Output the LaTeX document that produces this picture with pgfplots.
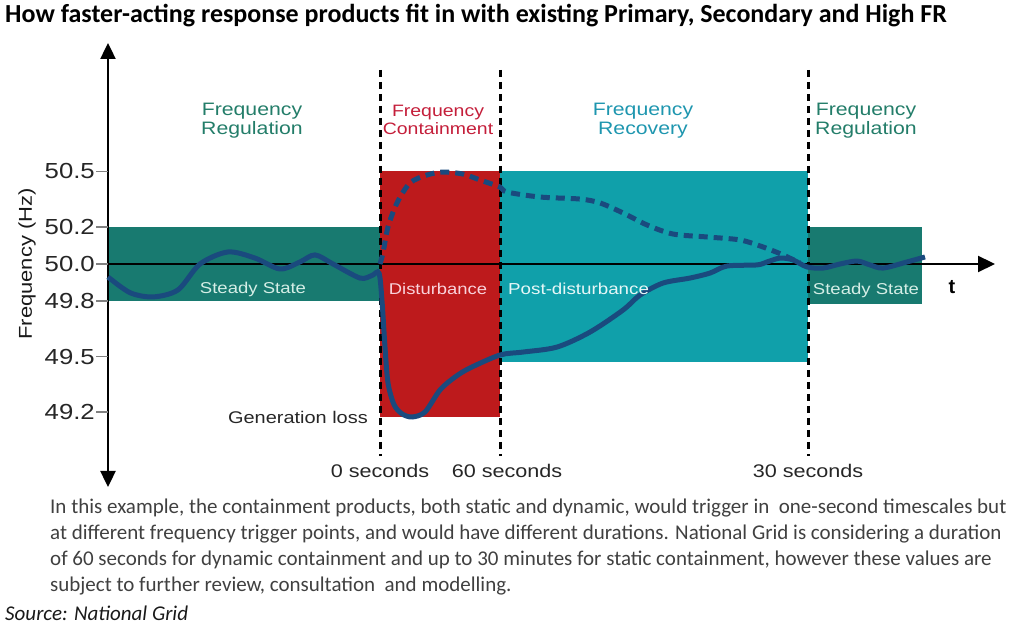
\documentclass[border=0pt]{standalone}
\usepackage{pgfplots}
\pgfplotsset{compat=1.18}
\usepackage{fontspec}
\setmainfont{Carlito}
\newfontfamily\hv{Liberation Sans}
\usetikzlibrary{arrows.meta}
\usepackage{graphicx}
\definecolor{bandteal}{HTML}{187A70}
\definecolor{contred}{HTML}{BD1A1C}
\definecolor{reccyan}{HTML}{10A0AA}
\definecolor{curve}{HTML}{1A4A7E}
\definecolor{headteal}{HTML}{237D69}
\definecolor{headred}{HTML}{C41E3A}
\definecolor{headrec}{HTML}{1E96AF}
\definecolor{lightmint}{HTML}{D5EEE6}
\definecolor{lightpink}{HTML}{F9D3DC}
\definecolor{lightcyan}{HTML}{E6F7F7}
\definecolor{paragray}{HTML}{404040}
\newcommand{\sx}[1]{\scalebox{1.18}[1]{#1}}
\newcommand{\fs}[1]{\fontsize{#1}{#1}\selectfont}
\newcommand{\Y}[1]{{50+(264-#1)/185}}
\begin{document}
\begin{tikzpicture}
\begin{axis}[
  width=1017pt, height=632pt, scale only axis,
  xmin=0, xmax=1017, ymin=48.010811, ymax=51.427027,
  axis lines=none, clip=false,
]
\coordinate (BL) at (axis cs:0,48.010811);
\coordinate (TR) at (axis cs:1017,51.427027);
% regions
\addplot[fill=bandteal, draw=none] coordinates {(108,49.8) (380,49.8) (380,50.2) (108,50.2)} -- cycle;
\addplot[fill=contred, draw=none] coordinates {(380,49.173) (500,49.173) (500,50.5) (380,50.5)} -- cycle;
\addplot[fill=reccyan, draw=none] coordinates {(500,49.47) (808,49.47) (808,50.5) (500,50.5)} -- cycle;
\addplot[fill=bandteal, draw=none] coordinates {(808,49.785) (922,49.785) (922,50.2) (808,50.2)} -- cycle;
% dashed vertical separators
\draw[black, line width=3pt, dash pattern=on 7pt off 5pt] (axis cs:380,\Y{70}) -- (axis cs:380,\Y{456});
\draw[black, line width=3pt, dash pattern=on 7pt off 5pt] (axis cs:500,\Y{70}) -- (axis cs:500,\Y{456});
\draw[black, line width=3pt, dash pattern=on 7pt off 5pt] (axis cs:808,\Y{70}) -- (axis cs:808,\Y{456});
% axes
\draw[line width=2.4pt, {Triangle[length=16pt,width=15pt]}-{Triangle[length=16pt,width=15pt]}] (axis cs:108,\Y{487}) -- (axis cs:108,\Y{43});
\draw[line width=2.2pt, -{Triangle[length=17pt,width=16pt]}] (axis cs:108,50) -- (axis cs:995,50);
% y ticks
\foreach \v in {50.5,50.2,50.0,49.8,49.5,49.2}{
  \edef\temp{\noexpand\draw[gray, line width=1.2pt] (axis cs:96,\v) -- (axis cs:108,\v);
  \noexpand\node[anchor=east, inner sep=0pt, font=\noexpand\hv\noexpand\fs{21.8}, text=black!85] at (axis cs:95,\v) {\noexpand\sx{\v}};}
  \temp
}
% curves
\addplot[curve, line width=5pt, smooth] coordinates {
(108,49.930) (130,49.845) (153,49.822) (178,49.860) (200,50.000) (228,50.065) (255,50.032)
(280,49.973) (300,50.011) (315,50.049) (333,50.000) (360,49.924) (372,49.938) (379,49.951)
(382,49.80) (385,49.55) (388,49.357) (394,49.24) (402,49.190) (412,49.173) (425,49.200)
(440,49.319) (455,49.389) (470,49.438) (500,49.508) (523,49.524) (557,49.551) (590,49.632)
(623,49.751) (640,49.832) (663,49.897) (690,49.924) (710,49.951) (727,49.989) (757,49.995)
(767,50.011) (780,50.032) (793,50.022) (807,49.984) (823,49.978) (840,50.000) (857,50.016)
(870,49.995) (883,49.978) (907,50.011) (925,50.038)
};
\addplot[curve, line width=5pt, smooth, dash pattern=on 9pt off 6pt] coordinates {
(380,50.000) (383,50.060) (388,50.200) (397,50.330) (410,50.438) (427,50.481) (443,50.497)
(463,50.486) (480,50.454) (500,50.416) (507,50.389) (540,50.362) (580,50.351) (600,50.330)
(623,50.276) (647,50.211) (673,50.162) (707,50.146) (740,50.130) (763,50.092) (783,50.049)
(800,50.005)
};
% region headings
\node[align=center, inner sep=0pt, text=headteal, font=\hv\fontsize{18}{19}\selectfont] at (axis cs:252,\Y{121}) {\sx{Frequency}\\\sx{Regulation}};
\node[align=center, inner sep=0pt, text=headred, font=\hv\fontsize{16.5}{18.5}\selectfont] at (axis cs:438,\Y{120}) {\sx{Frequency}\\\sx{Containment}};
\node[align=center, inner sep=0pt, text=headrec, font=\hv\fontsize{18}{19}\selectfont] at (axis cs:643,\Y{121}) {\sx{Frequency}\\\sx{Recovery}};
\node[align=center, inner sep=0pt, text=headteal, font=\hv\fontsize{18}{19}\selectfont] at (axis cs:866,\Y{121}) {\sx{Frequency}\\\sx{Regulation}};
% in-band labels
\node[inner sep=0pt, text=lightmint, font=\hv\fs{15.7}] at (axis cs:253,\Y{289}) {\sx{Steady State}};
\node[inner sep=0pt, text=lightpink, font=\hv\fs{15.6}] at (axis cs:438,\Y{289}) {\sx{Disturbance}};
\node[anchor=west, inner sep=0pt, text=lightcyan, font=\hv\fs{15.9}] at (axis cs:508,\Y{289}) {\sx{Post-disturbance}};
\node[inner sep=0pt, text=lightmint, font=\hv\fs{15.7}] at (axis cs:866,\Y{290}) {\sx{Steady State}};
\node[anchor=east, inner sep=0pt, text=black!85, font=\hv\fs{16.9}] at (axis cs:368,\Y{417}) {\sx{Generation loss}};
% time labels
\node[inner sep=0pt, text=black!85, font=\hv\fs{18.3}] at (axis cs:380,\Y{471}) {\sx{0 seconds}};
\node[inner sep=0pt, text=black!85, font=\hv\fs{18.3}] at (axis cs:507,\Y{471}) {\sx{60 seconds}};
\node[inner sep=0pt, text=black!85, font=\hv\fs{18.3}] at (axis cs:808,\Y{471}) {\sx{30 seconds}};
\node[inner sep=0pt, font=\hv\bfseries\fs{20}] at (axis cs:952,\Y{287}) {t};
\node[inner sep=0pt, rotate=90, text=black!90, font=\hv\fs{18.6}] at (axis cs:27,\Y{264}) {\sx{Frequency (Hz)}};
% title
\node[anchor=west, inner sep=0pt, font=\bfseries\fs{26}] at (axis cs:5,\Y{16}) {How faster-acting response products fit in with existing Primary, Secondary and High FR};
% paragraph
\node[anchor=west, inner sep=0pt, text=paragray, font=\fs{21}] at (axis cs:50,\Y{508}) {In this example, the containment products, both static and dynamic, would trigger in\ \ one-second timescales but};
\node[anchor=west, inner sep=0pt, text=paragray, font=\fs{21}] at (axis cs:50,\Y{534}) {at different frequency trigger points, and would have different durations. National Grid is considering a duration};
\node[anchor=west, inner sep=0pt, text=paragray, font=\fs{21}] at (axis cs:50,\Y{560}) {of 60 seconds for dynamic containment and up to 30 minutes for static containment, however these values are};
\node[anchor=west, inner sep=0pt, text=paragray, font=\fs{21}] at (axis cs:50,\Y{586}) {subject to further review, consultation\ \ and modelling.};
\node[anchor=west, inner sep=0pt, text=black!90, font=\itshape\fs{21}] at (axis cs:5,\Y{613}) {Source: National Grid};
\end{axis}
\pgfresetboundingbox
\path (BL) rectangle (TR);
\end{tikzpicture}
\end{document}
